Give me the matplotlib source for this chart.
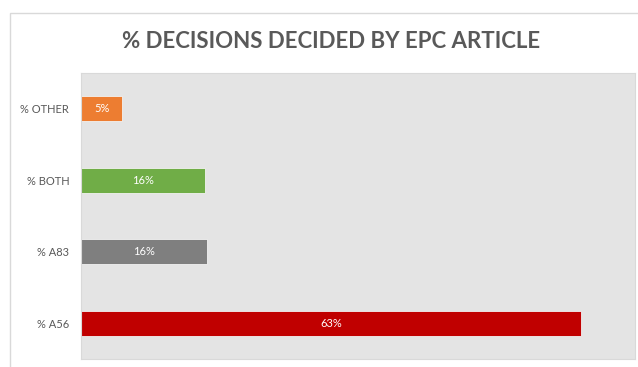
import matplotlib.pyplot as plt
from matplotlib.patches import Rectangle

categories = ['% A56', '% A83', '% BOTH', '% OTHER']
values = [63.2, 15.9, 15.7, 5.2]
labels = ['63%', '16%', '16%', '5%']
colors = ['#C00000', '#7F7F7F', '#70AD47', '#ED7D31']

plt.rcParams['font.family'] = ['Lato', 'DejaVu Sans']

fig = plt.figure(figsize=(6.38, 3.67), dpi=100)
fig.patches.append(Rectangle((10 / 638, -0.01), 1.0, 1 - 13 / 367 + 0.01,
                             transform=fig.transFigure, fill=False,
                             edgecolor='#D9D9D9', linewidth=1))
ax = fig.add_axes([81 / 638, 8 / 367, 554 / 638, 286 / 367])
ax.set_facecolor('#E4E4E4')

ypos = range(len(categories))
bars = ax.barh(ypos, values, height=0.35, color=colors, edgecolor='#F2F2F2', linewidth=0.6)
for b, lab in zip(bars, labels):
    ax.text(b.get_width() / 2, b.get_y() + b.get_height() / 2, lab,
            ha='center', va='center', color='white', fontsize=8)

ax.set_xlim(0, 70)
ax.set_ylim(-0.5, 3.5)
ax.set_yticks(list(ypos))
ax.set_yticklabels(categories, fontsize=8, color='#595959')
ax.set_xticks([])
ax.tick_params(axis='y', length=0, pad=8.5)
for s in ax.spines.values():
    s.set_color('#D9D9D9')

fig.text(331 / 638, 1 - 41 / 367, '% DECISIONS DECIDED BY EPC ARTICLE',
         ha='center', va='center', fontsize=16, fontweight='bold', color='#595959')

fig.savefig('out.png', dpi=100)
